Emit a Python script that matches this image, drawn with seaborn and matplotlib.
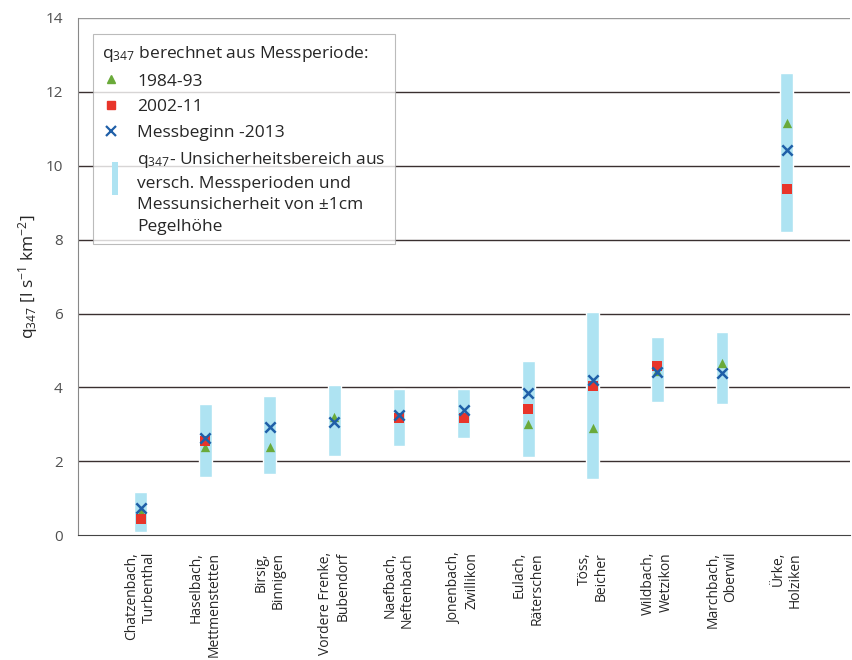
import numpy as np
import pandas as pd
import matplotlib
matplotlib.use("Agg")
import matplotlib.pyplot as plt
import seaborn as sns
from matplotlib.patches import Patch, Rectangle
from matplotlib.lines import Line2D
from matplotlib.legend_handler import HandlerPatch

stations = ["Chatzenbach,\nTurbenthal", "Haselbach,\nMettmenstetten", "Birsig,\nBinnigen",
            "Vordere Frenke,\nBubendorf", "Naefbach,\nNeftenbach", "Jonenbach,\nZwillikon",
            "Eulach,\nRäterschen", "Töss,\nBeicher", "Wildbach,\nWetzikon",
            "Marchbach,\nOberwil", "Ürke,\nHolziken"]
band_low = [0.08, 1.57, 1.65, 2.14, 2.41, 2.63, 2.11, 1.52, 3.60, 3.55, 8.20]
band_high = [1.16, 3.55, 3.76, 4.06, 3.95, 3.95, 4.71, 6.04, 5.36, 5.50, 12.50]
q_1984 = [0.62, 2.38, 2.38, 3.20, np.nan, np.nan, 3.00, 2.90, 4.45, 4.65, 11.15]
q_2002 = [0.43, 2.55, np.nan, np.nan, 3.18, 3.17, 3.41, 4.03, 4.57, np.nan, 9.37]
q_start = [0.73, 2.63, 2.92, 3.06, 3.25, 3.38, 3.85, 4.20, 4.41, 4.39, 10.42]

c_tri, c_sq, c_x, c_band = "#6aaa3a", "#e8352a", "#1f5fa8", "#aee3f2"

sns.set_style("white")
plt.rcParams["font.family"] = ["Open Sans", "DejaVu Sans"]
plt.rcParams["mathtext.fontset"] = "custom"
plt.rcParams["mathtext.rm"] = "Open Sans"
plt.rcParams["mathtext.it"] = "Open Sans:italic"
plt.rcParams["mathtext.default"] = "rm"

pos = np.arange(len(stations))
df = pd.DataFrame({"pos": pos, "q1984": q_1984, "q2002": q_2002, "qstart": q_start,
                   "low": band_low, "high": band_high})

fig = plt.figure(figsize=(8.52, 6.6), dpi=100)
ax = fig.add_axes([0.0915, 0.189, 0.906, 0.784])

for y in range(2, 14, 2):
    ax.axhline(y, color="#3a3030", lw=1.0, zorder=0)
ax.axhline(14, color="#999999", lw=1.0, zorder=0)

ax.bar(df["pos"], df["high"] - df["low"], bottom=df["low"], width=0.2,
       color=c_band, zorder=1)

sns.scatterplot(data=df, x="pos", y="q1984", marker="^", s=45, color=c_tri,
                linewidth=0, ax=ax, zorder=3)
sns.scatterplot(data=df, x="pos", y="q2002", marker="s", s=45, color=c_sq,
                linewidth=0, ax=ax, zorder=4)
sns.scatterplot(data=df, x="pos", y="qstart", marker="x", s=55, color=c_x,
                linewidth=1.8, ax=ax, zorder=5)

ax.set_xlim(-0.97, 10.98)
ax.set_ylim(0, 14)
ax.set_yticks(range(0, 15, 2))
ax.tick_params(axis="y", labelsize=11, length=0, pad=11)
for t in ax.get_yticklabels():
    t.set_color("#505050")
ax.set_xticks(pos)
ax.set_xticklabels(stations, rotation=90, ha="center", va="top", multialignment="right",
                   fontsize=10)
ax.tick_params(axis="x", length=0, pad=12)
ax.set_xlabel("")
ax.set_ylabel("q$_{347}$ [l s$^{-1}$ km$^{-2}$]", fontsize=12.5, labelpad=4)

for s in ["top", "right"]:
    ax.spines[s].set_visible(False)
ax.spines["left"].set_color("#888888")
ax.spines["bottom"].set_color("#444444")


def band_handle(legend, orig_handle, xdescent, ydescent, width, height, fontsize):
    return Rectangle((-xdescent + width * 0.55, -ydescent + 0.2 * fontsize),
                     width * 0.35, 1.9 * fontsize)


handles = [Line2D([], [], marker="^", color=c_tri, lw=0, markersize=5.5),
           Line2D([], [], marker="s", color=c_sq, lw=0, markersize=5.5),
           Line2D([], [], marker="x", color=c_x, lw=0, markersize=7, markeredgewidth=1.6),
           Patch(facecolor=c_band, edgecolor="none")]
labels = ["1984-93", "2002-11", "Messbeginn -2013",
          "q$_{347}$- Unsicherheitsbereich aus\nversch. Messperioden und\nMessunsicherheit von ±1cm\nPegelhöhe"]
leg = ax.legend(handles, labels, title="q$_{347}$ berechnet aus Messperiode:",
                loc="upper left", bbox_to_anchor=(0.008, 0.985), fontsize=12.5,
                title_fontsize=12.5, frameon=True, fancybox=False, handlelength=1.0,
                handletextpad=1.0, borderpad=0.55, labelspacing=0.55, alignment="left",
                handler_map={Patch: HandlerPatch(patch_func=band_handle)})
leg.get_texts()[3].set_linespacing(1.45)
leg.get_frame().set_edgecolor("#aaaaaa")
leg.get_frame().set_linewidth(0.8)

fig.savefig("out.png", dpi=100)
